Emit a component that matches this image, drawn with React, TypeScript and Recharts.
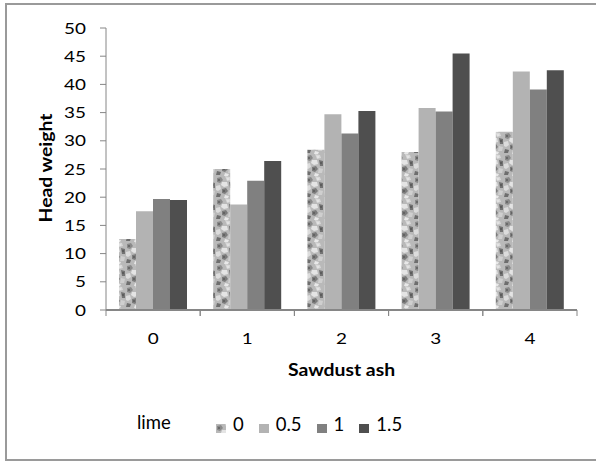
import React from 'react';
import { BarChart, Bar, XAxis, YAxis, Legend } from 'recharts';

const CATEGORIES = ['0', '1', '2', '3', '4'];
const SERIES_NAMES = ['0', '0.5', '1', '1.5'];
const LIME_0 = [12.6, 25.0, 28.4, 28.0, 31.6];
const LIME_05 = [17.5, 18.7, 34.7, 35.8, 42.3];
const LIME_1 = [19.7, 22.9, 31.3, 35.2, 39.1];
const LIME_15 = [19.5, 26.4, 35.3, 45.5, 42.5];
const Y_TICKS = [0, 5, 10, 15, 20, 25, 30, 35, 40, 45, 50];
const X_TITLE = 'Sawdust ash';
const Y_TITLE = 'Head weight';
const LEGEND_TITLE = 'lime';

const data = CATEGORIES.map((c, i) => ({
  cat: c,
  s0: LIME_0[i],
  s05: LIME_05[i],
  s1: LIME_1[i],
  s15: LIME_15[i],
}));

const AXIS = '#868686';
const FONT = 'Lato, "Open Sans", sans-serif';

const YTick = (props: any) => {
  const { x, y, payload } = props;
  return (
    <g transform={`translate(${x},${y})`}>
      <text transform="scale(1.22,1)" textAnchor="end" dy={5.5} fontFamily={FONT} fontSize={15.5} fill="#000">
        {payload.value}
      </text>
    </g>
  );
};

const XTick = (props: any) => {
  const { x, y, payload } = props;
  const half = payload && payload.offset ? payload.offset : 471 / CATEGORIES.length / 2;
  return (
    <g>
      <line x1={x - half} y1={y} x2={x - half} y2={y + 6} stroke={AXIS} strokeWidth={1} />
      <line x1={x + half} y1={y} x2={x + half} y2={y + 6} stroke={AXIS} strokeWidth={1} />
      <g transform={`translate(${x},${y + 34})`}>
        <text transform="scale(1.22,1)" textAnchor="middle" fontFamily={FONT} fontSize={15.5} fill="#000">
          {payload.value}
        </text>
      </g>
    </g>
  );
};

const XTitle = (props: any) => {
  const vb = props.viewBox || { x: 106, y: 310, width: 471, height: 121 };
  return (
    <g transform={`translate(${vb.x + vb.width / 2},${vb.y + 66})`}>
      <text transform="scale(1.14,1)" textAnchor="middle" fontFamily={FONT} fontWeight={700} fontSize={17} fill="#000">
        {X_TITLE}
      </text>
    </g>
  );
};

const YTitle = (props: any) => {
  const vb = props.viewBox || { x: 0, y: 28, width: 106, height: 282 };
  return (
    <g transform={`translate(${vb.x + 52},${vb.y + vb.height / 2 - 1}) rotate(-90)`}>
      <text transform="scale(1.14,1)" textAnchor="middle" fontFamily={FONT} fontWeight={700} fontSize={17} fill="#000">
        {Y_TITLE}
      </text>
    </g>
  );
};

const renderLegend = (props: any) => {
  const payload = props.payload || [];
  return (
    <div style={{ position: 'relative', width: 596, height: 30, fontFamily: FONT, fontSize: 18.5, color: '#000' }}>
      <div style={{ position: 'absolute', left: 137, top: 8, lineHeight: '22px' }}>{LEGEND_TITLE}</div>
      <div style={{ position: 'absolute', left: 216, top: 10, display: 'flex', lineHeight: '22px' }}>
        {payload.map((p: any, i: number) => (
          <div key={i} style={{ display: 'flex', alignItems: 'flex-start', marginRight: 15 }}>
            <svg width={10} height={9} style={{ marginTop: 11, marginRight: 7, display: 'block' }}>
              <rect width={10} height={9} fill={p.color} />
            </svg>
            <span>{p.value}</span>
          </div>
        ))}
      </div>
    </div>
  );
};

export default function App() {
  return (
    <div style={{ position: 'absolute', left: 0, top: 0, width: 596, height: 461, overflow: 'hidden', background: '#fff' }}>
      <svg width={0} height={0} style={{ position: 'absolute' }}>
        <defs>
          <pattern id="granite" patternUnits="userSpaceOnUse" width={18} height={22}>
            <rect width={18} height={22} fill="#b9b9b9" />
            <path d="M1 2 L5 1 L7 4 L4 7 L1 6 Z" fill="#8a8a8a" />
            <path d="M9 0 L14 1 L15 4 L11 5 Z" fill="#d8d8d8" />
            <path d="M6 6 L11 6 L12 10 L8 11 L5 9 Z" fill="#e4e4e4" />
            <path d="M13 6 L17 7 L17 12 L14 12 Z" fill="#727272" />
            <path d="M0 10 L4 9 L5 13 L2 15 L0 14 Z" fill="#dcdcdc" />
            <path d="M6 13 L10 12 L12 15 L9 18 L6 17 Z" fill="#7c7c7c" />
            <path d="M13 14 L17 15 L16 19 L12 19 Z" fill="#cfcfcf" />
            <path d="M1 17 L5 18 L4 21 L0 21 Z" fill="#6e6e6e" />
            <path d="M9 19 L13 20 L12 22 L8 22 Z" fill="#e8e8e8" />
            <circle cx={3} cy={4} r={1} fill="#5e5e5e" />
            <circle cx={15} cy={9} r={1} fill="#555" />
            <circle cx={8} cy={15} r={1} fill="#5a5a5a" />
            <circle cx={12} cy={3} r={0.8} fill="#f0f0f0" />
          </pattern>
        </defs>
      </svg>
      <div
        style={{
          position: 'absolute',
          left: 5,
          top: 3,
          width: 640,
          height: 458,
          boxSizing: 'border-box',
          border: '2px solid #9a9a9a',
          pointerEvents: 'none',
        }}
      />
      <BarChart
        width={596}
        height={461}
        data={data}
        margin={{ top: 28, right: 19, left: 0, bottom: 0 }}
        barCategoryGap="13.8%"
        barGap={0}
      >
        <XAxis
          dataKey="cat"
          height={121}
          interval={0}
          tickLine={false}
          tickSize={0}
          tickMargin={0}
          axisLine={{ stroke: AXIS, strokeWidth: 2 }}
          tick={(p: any) => <XTick {...p} />}
          label={(p: any) => <XTitle {...p} />}
        />
        <YAxis
          domain={[0, 50]}
          ticks={Y_TICKS}
          interval={0}
          width={106}
          tickSize={6}
          tickMargin={14}
          axisLine={{ stroke: AXIS }}
          tickLine={{ stroke: AXIS }}
          tick={(p: any) => <YTick {...p} />}
          label={(p: any) => <YTitle {...p} />}
        />
        <Legend
          verticalAlign="bottom"
          content={renderLegend}
          wrapperStyle={{ left: 0, top: 403, width: 596, height: 30 }}
        />
        <Bar dataKey="s0" name={SERIES_NAMES[0]} fill="url(#granite)" isAnimationActive={false} />
        <Bar dataKey="s05" name={SERIES_NAMES[1]} fill="#b3b3b3" isAnimationActive={false} />
        <Bar dataKey="s1" name={SERIES_NAMES[2]} fill="#808080" isAnimationActive={false} />
        <Bar dataKey="s15" name={SERIES_NAMES[3]} fill="#4f4f4f" isAnimationActive={false} />
      </BarChart>
    </div>
  );
}
